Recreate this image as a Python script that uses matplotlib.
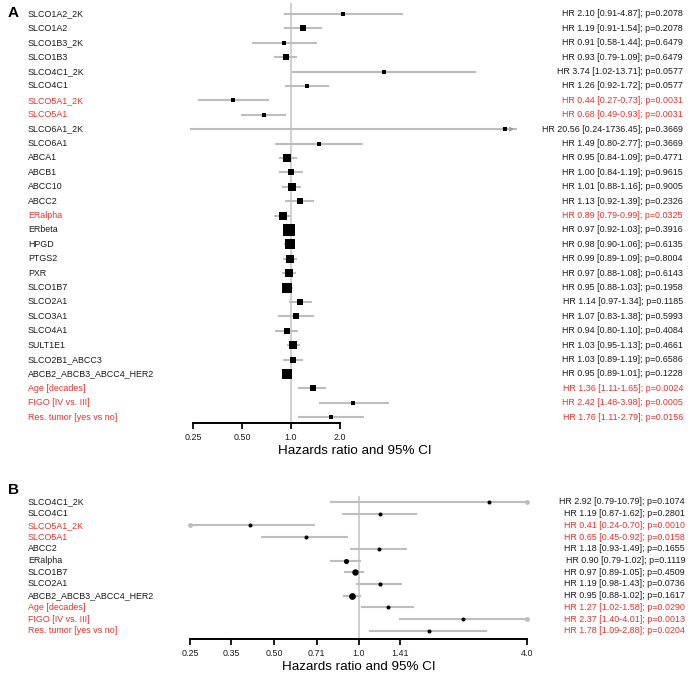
import numpy as np
from matplotlib import pyplot as plt
import matplotlib.transforms as mtrans

plt.rcParams['font.family'] = ['Liberation Sans', 'DejaVu Sans']

# Panel A: Cox results per gene / clinical factor
namesA = ["SLCO1A2_2K", "SLCO1A2", "SLCO1B3_2K", "SLCO1B3", "SLCO4C1_2K", "SLCO4C1",
          "SLCO5A1_2K", "SLCO5A1", "SLCO6A1_2K", "SLCO6A1", "ABCA1", "ABCB1", "ABCC10",
          "ABCC2", "ERalpha", "ERbeta", "HPGD", "PTGS2", "PXR", "SLCO1B7", "SLCO2A1",
          "SLCO3A1", "SLCO4A1", "SULT1E1", "SLCO2B1_ABCC3", "ABCB2_ABCB3_ABCC4_HER2",
          "Age [decades]", "FIGO [IV vs. III]", "Res. tumor [yes vs no]"]
hrA = [2.10, 1.19, 0.91, 0.93, 3.74, 1.26, 0.44, 0.68, 20.56, 1.49, 0.95, 1.00, 1.01,
       1.13, 0.89, 0.97, 0.98, 0.99, 0.97, 0.95, 1.14, 1.07, 0.94, 1.03, 1.03, 0.95,
       1.36, 2.42, 1.76]
loA = [0.91, 0.91, 0.58, 0.79, 1.02, 0.92, 0.27, 0.49, 0.24, 0.80, 0.84, 0.84, 0.88,
       0.92, 0.79, 0.92, 0.90, 0.89, 0.88, 0.88, 0.97, 0.83, 0.80, 0.95, 0.89, 0.89,
       1.11, 1.48, 1.11]
hiA = [4.87, 1.54, 1.44, 1.09, 13.71, 1.72, 0.73, 0.93, 1736.45, 2.77, 1.09, 1.19, 1.16,
       1.39, 0.99, 1.03, 1.06, 1.09, 1.08, 1.03, 1.34, 1.38, 1.10, 1.13, 1.19, 1.01,
       1.65, 3.98, 2.79]
pA = [0.2078, 0.2078, 0.6479, 0.6479, 0.0577, 0.0577, 0.0031, 0.0031, 0.3669, 0.3669,
      0.4771, 0.9615, 0.9005, 0.2326, 0.0325, 0.3916, 0.6135, 0.8004, 0.6143, 0.1958,
      0.1185, 0.5993, 0.4084, 0.4661, 0.6586, 0.1228, 0.0024, 0.0005, 0.0156]

# Panel B: final model
namesB = ["SLCO4C1_2K", "SLCO4C1", "SLCO5A1_2K", "SLCO5A1", "ABCC2", "ERalpha", "SLCO1B7",
          "SLCO2A1", "ABCB2_ABCB3_ABCC4_HER2", "Age [decades]", "FIGO [IV vs. III]",
          "Res. tumor [yes vs no]"]
hrB = [2.92, 1.19, 0.41, 0.65, 1.18, 0.90, 0.97, 1.19, 0.95, 1.27, 2.37, 1.78]
loB = [0.79, 0.87, 0.24, 0.45, 0.93, 0.79, 0.89, 0.98, 0.88, 1.02, 1.40, 1.09]
hiB = [10.79, 1.62, 0.70, 0.92, 1.49, 1.02, 1.05, 1.43, 1.02, 1.58, 4.01, 2.88]
pB = [0.1074, 0.2801, 0.0010, 0.0158, 0.1655, 0.1119, 0.4509, 0.0736, 0.1617, 0.0290,
      0.0013, 0.0204]

ticksA = [0.25, 0.5, 1.0, 2.0]
ticklabA = ["0.25", "0.50", "1.0", "2.0"]
ticksB = [0.25, 0.35, 0.5, 0.71, 1.0, 1.41, 4.0]
ticklabB = ["0.25", "0.35", "0.50", "0.71", "1.0", "1.41", "4.0"]

RED = '#e8312b'
DARK = '#1a1a1a'
GREY = '#bdbdbd'
W, H = 698, 680

fig = plt.figure(figsize=(W / 100, H / 100), dpi=100)


def px_axes(left, right, top, bottom):
    # axes placed in pixel units of the figure
    return fig.add_axes([left / W, 1 - bottom / H, (right - left) / W, (bottom - top) / H])


def draw(ax, names, hr, lo, hi, p, clip_lo, clip_hi, ticks, ticklab, spine, bs, bm, mk, arrow):
    n = len(names)
    y = np.arange(n)
    hr, lo, hi, p = map(np.array, (hr, lo, hi, p))
    ax.set_xscale('log', base=2)
    ax.axvline(1.0, color='#c4c4c4', lw=1.1, zorder=1)
    ax.hlines(y, np.clip(lo, clip_lo, clip_hi), np.clip(hi, clip_lo, clip_hi),
              color=GREY, lw=1.5, zorder=2)
    # box size grows with precision (1/width of CI), with a floor
    size = np.maximum(bm, bs * np.sqrt(1 / np.log(hi / lo))) * 0.72
    for i in range(n):
        ax.plot(hr[i], y[i], marker=mk, ms=size[i], color='black', mew=0, zorder=3,
                clip_on=False)
        if arrow and hi[i] > clip_hi:
            ax.annotate('', xy=(clip_hi, y[i]), xytext=(clip_hi / 1.15, y[i]),
                        arrowprops=dict(arrowstyle='->', color='#999999', lw=0.9,
                                        mutation_scale=6), annotation_clip=False)
        if not arrow:
            if lo[i] < clip_lo:
                ax.plot(clip_lo, y[i], 'o', ms=2.5, color=GREY, clip_on=False, zorder=2)
            if hi[i] > clip_hi:
                ax.plot(clip_hi, y[i], 'o', ms=2.5, color=GREY, clip_on=False, zorder=2)
    for sp in ['top', 'left', 'right']:
        ax.spines[sp].set_visible(False)
    ax.spines['bottom'].set_bounds(spine[0], spine[1])
    ax.spines['bottom'].set_linewidth(1.4)
    ax.set_yticks([])
    ax.set_xticks(ticks)
    ax.set_xticklabels(ticklab)
    ax.minorticks_off()
    ax.tick_params(axis='x', length=4, width=1.4, labelsize=6.4, pad=3, colors=DARK)
    ax.set_xlabel("Hazards ratio and 95% CI", fontsize=9.6, labelpad=2.5, color='black')


def labels(ax, names, hr, lo, hi, p, xr):
    tr = mtrans.blended_transform_factory(fig.transFigure, ax.transData)
    for i in range(len(names)):
        c = RED if p[i] < 0.05 else DARK
        ax.text(28 / W, i, names[i], color=c, fontsize=6.4, va='center', ha='left',
                transform=tr, clip_on=False)
        s = "HR %.2f [%.2f-%.2f]; p=%.4f" % (hr[i], lo[i], hi[i], p[i])
        ax.text(xr / W, i, s, color=c, fontsize=6.4, va='center', ha='right',
                transform=tr, clip_on=False)


# ---- panel A
axA = px_axes(185, 525, 3, 423)
axA.set_xlim(2 ** ((185 - 291) / 49), 2 ** ((525 - 291) / 49))
axA.set_ylim((423 - 14) / 14.4, (3 - 14) / 14.4)
draw(axA, namesA, hrA, loA, hiA, pA, 0.2, 2 ** ((517 - 291) / 49), ticksA, ticklabA,
     (0.25, 2.0), 3.7, 4.3, 's', True)
labels(axA, namesA, hrA, loA, hiA, pA, 683)

# ---- panel B
axB = px_axes(190, 527, 496, 639)
axB.set_xlim(0.25, 4.0)
axB.set_ylim((639 - 502) / 11.7, (496 - 502) / 11.7)
draw(axB, namesB, hrB, loB, hiB, pB, 0.25, 4.0, ticksB, ticklabB, (0.25, 4.0),
     2.6, 4.0, 'o', False)
labels(axB, namesB, hrB, loB, hiB, pB, 685)

fig.text(8 / W, 1 - 13 / H, "A", fontsize=11, fontweight='bold', va='center', ha='left')
fig.text(8 / W, 1 - 490 / H, "B", fontsize=11, fontweight='bold', va='center', ha='left')

fig.savefig('out.png', dpi=100)
